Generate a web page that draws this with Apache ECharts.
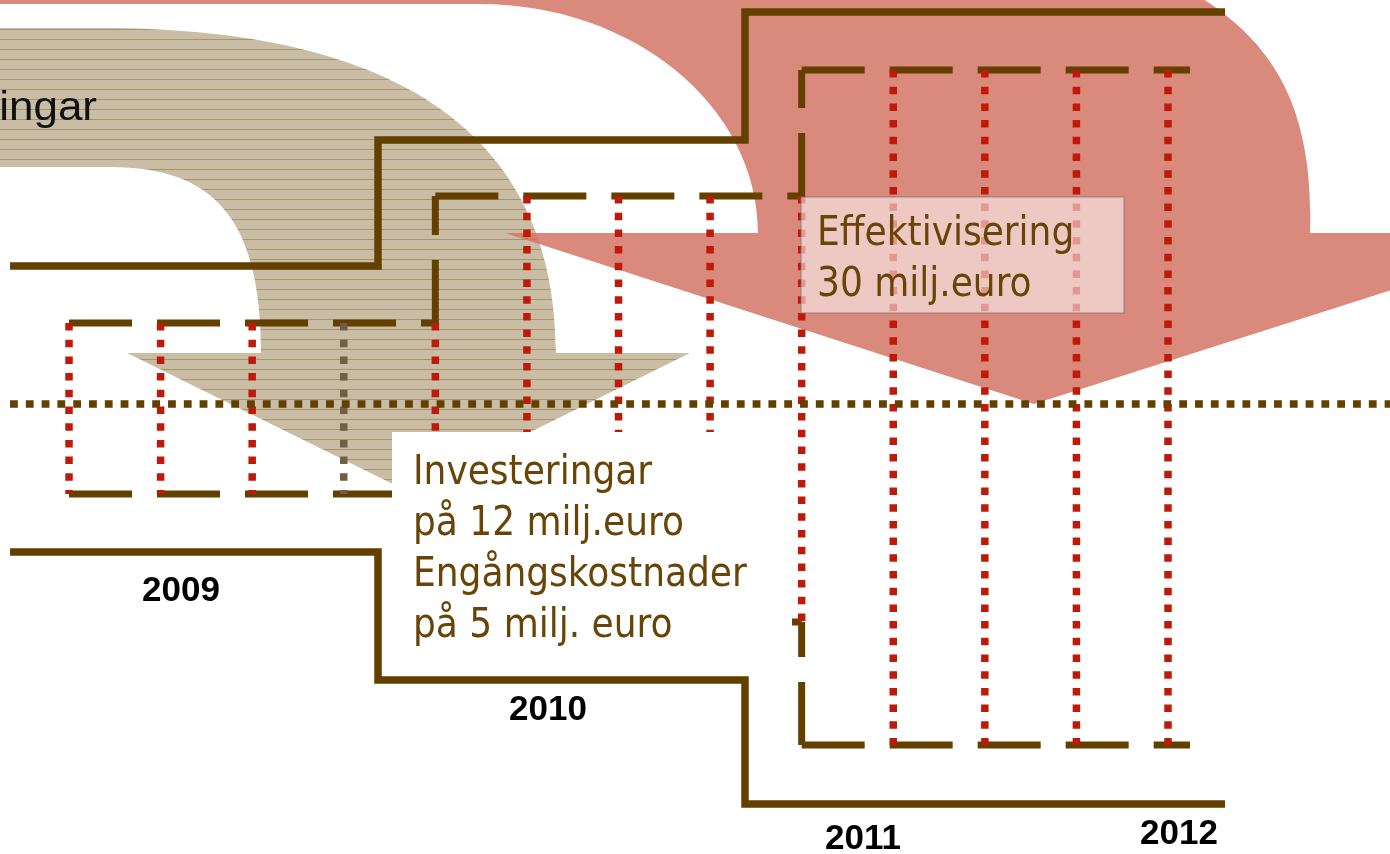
<!DOCTYPE html>
<html><head><meta charset="utf-8">
<script src="https://cdn.jsdelivr.net/npm/echarts@6/dist/echarts.min.js"></script>
<style>html,body{margin:0;padding:0;background:#fff;overflow:hidden}#c{width:1390px;height:854px}</style>
</head><body><div id="c"></div>
<script>
// x axis: time in years (red divider lines at each quarter); y axis: level relative to the dotted baseline
const X_MIN = 2008.8116, X_MAX = 2012.6060, Y_MIN = -450, Y_MAX = 404;

const years = ['2009', '2010', '2011', '2012'];
const yearLabelT = [2009.3057, 2010.3076, 2011.1675, 2012.0301];
const yearLabelV = [-187.5, -306.5, -435.5, -430.5];

// solid envelope (step lines)
const stepT = [2008.839, 2009.8435, 2010.8453, 2012.1556];
const upperStepV = [138, 264, 392, 392];
const lowerStepV = [-148, -276, -400, -400];

// quarter dividers (red dotted)
const quarterT = [2009, 2009.25, 2009.5, 2009.75, 2010, 2010.25, 2010.5, 2010.75, 2011, 2011.25, 2011.5, 2011.75, 2012];
const quarterTop = [81, 81, 81, 81, 81, 208, 208, 208, 208, 334, 334, 334, 334];
const quarterBottom = [-90, -90, -90, -90, -90, -218, -218, -218, -218, -341, -341, -341, -341];
const greyQuarter = 2009.75;

// dashed box edges [t1, v1, t2, v2]
const dashedEdges = [
  [2009, 81, 2010, 81],
  [2009, -90, 2010, -90],
  [2010, 81, 2010, 208],
  [2010, 208, 2011, 208],
  [2010, -218, 2011, -218],
  [2011, -341, 2011, -218],
  [2011, 208, 2011, 334],
  [2011, 334, 2012.0601, 334],
  [2011, -341, 2012.0601, -341]
];

const baselineT = [2008.839, 2012.62];
const baselineV = 0;

// curved arrows (outline commands in axis units)
const beigeArrowPath = [
  ['M', 2008.7843, 376], ['L', 2009.0846, 376],
  ['C', 2009.9582, 376, 2010.3294, 254, 2010.3294, 51],
  ['L', 2010.6952, 51], ['L', 2009.9281, -88], ['L', 2009.1583, 51], ['L', 2009.5241, 51],
  ['C', 2009.5241, 184, 2009.3986, 237, 2009.1119, 237],
  ['L', 2008.7843, 237]
];
const pinkArrowPath = [
  ['M', 2008.7843, 434], ['L', 2012.0328, 419],
  ['C', 2012.2511, 374, 2012.4013, 314, 2012.3876, 171],
  ['L', 2013.0974, 171], ['L', 2011.6342, 0], ['L', 2010.1902, 171], ['L', 2010.8808, 171],
  ['C', 2010.8808, 297.5, 2010.5410, 400, 2010.1219, 400],
  ['L', 2008.7843, 400]
];

const arrowLabel = 'Investeringar';
const arrowLabelAnchor = [2009.0764, 295];

const investText = ['Investeringar', 'på 12 milj.euro', 'Engångskostnader', 'på 5 milj. euro'];
const investBox = [2009.8817, -28, 2010.9736, -266];
const investTextAnchor = [2009.939, -44.5];

const effektText = ['Effektivisering', '30 milj.euro'];
const effektBox = [2010.9982, 207, 2011.8799, 91];
const effektTextAnchor = [2011.0419, 195];

const BROWN = '#633F00', RED = '#BE1A0A', GREY = '#6F5F44', TEXT_BROWN = '#684507';
const TEXT_FONT = '40px "DejaVu Sans Condensed"';

const pc = document.createElement('canvas');
pc.width = 8; pc.height = 10;
const g = pc.getContext('2d');
g.fillStyle = '#C9BDA5'; g.fillRect(0, 0, 8, 10);
g.fillStyle = '#A8946C'; g.fillRect(0, 9, 8, 1);

function pathRender(cmds, style) {
  return function (params, api) {
    let d = '';
    cmds.forEach(c => {
      d += c[0];
      for (let i = 1; i < c.length; i += 2) {
        const p = api.coord([c[i], c[i + 1]]);
        d += ' ' + p[0].toFixed(2) + ' ' + p[1].toFixed(2);
      }
      d += ' ';
    });
    d += 'Z';
    return { type: 'path', shape: { pathData: d }, style: style };
  };
}

function boxRender(box, anchor, lines, fill, stroke, lw) {
  return function (params, api) {
    const a = api.coord([box[0], box[1]]), b = api.coord([box[2], box[3]]);
    const t = api.coord(anchor);
    return {
      type: 'group', children: [
        { type: 'rect', shape: { x: a[0], y: a[1], width: b[0] - a[0], height: b[1] - a[1] },
          style: { fill: fill, stroke: stroke, lineWidth: lw } },
        { type: 'text', x: t[0], y: t[1],
          style: { text: lines.join('\n'), font: TEXT_FONT, fill: TEXT_BROWN, lineHeight: 51, align: 'left', verticalAlign: 'top' } }
      ]
    };
  };
}

const chart = echarts.init(document.getElementById('c'));
chart.setOption({
  animation: false,
  grid: { left: 0, right: 0, top: 0, bottom: 0 },
  xAxis: { type: 'value', min: X_MIN, max: X_MAX, show: false },
  yAxis: { type: 'value', min: Y_MIN, max: Y_MAX, show: false },
  series: [
    { type: 'custom', z: 1, silent: true, data: [[2010, 0]],
      renderItem: pathRender(beigeArrowPath, { fill: { image: pc, repeat: 'repeat' } }) },
    { type: 'custom', z: 2, silent: true, data: [[2011, 0]],
      renderItem: pathRender(pinkArrowPath, { fill: '#D37466', opacity: 0.85 }) },
    { type: 'custom', z: 9, silent: true, data: [[arrowLabelAnchor[0], arrowLabelAnchor[1]]],
      renderItem: function (params, api) {
        const p = api.coord(arrowLabelAnchor);
        return { type: 'text', x: p[0], y: p[1], scaleX: 1.1, style: { text: arrowLabel, font: '40px "Liberation Sans"', fill: '#111', align: 'right', verticalAlign: 'middle' } };
      } },
    { type: 'line', step: 'end', z: 3, silent: true, symbol: 'none',
      data: stepT.map((t, i) => [t, upperStepV[i]]), lineStyle: { color: BROWN, width: 7.5, join: 'miter' } },
    { type: 'line', step: 'end', z: 3, silent: true, symbol: 'none',
      data: stepT.map((t, i) => [t, lowerStepV[i]]), lineStyle: { color: BROWN, width: 7.5, join: 'miter' } },
    { type: 'custom', z: 4, silent: true, data: dashedEdges, encode: { x: [0, 2], y: [1, 3] },
      renderItem: function (params, api) {
        const a = api.coord([api.value(0), api.value(1)]), b = api.coord([api.value(2), api.value(3)]);
        return { type: 'line', shape: { x1: a[0], y1: a[1], x2: b[0], y2: b[1] },
          style: { stroke: BROWN, lineWidth: 7, lineDash: [63, 25], lineCap: 'butt' } };
      } },
    { type: 'custom', z: 5, silent: true, data: quarterT.map((t, i) => [t, quarterTop[i], quarterBottom[i]]), encode: { x: 0, y: [1, 2] },
      renderItem: function (params, api) {
        const t = api.value(0);
        const a = api.coord([t, api.value(1)]), b = api.coord([t, api.value(2)]);
        return { type: 'line', shape: { x1: a[0], y1: a[1], x2: b[0], y2: b[1] },
          style: { stroke: t === greyQuarter ? GREY : RED, lineWidth: 7.5, lineDash: [7.5, 9.2], lineCap: 'butt' } };
      } },
    { type: 'custom', z: 6, silent: true, data: [[baselineT[0], baselineV, baselineT[1], baselineV]], encode: { x: [0, 2], y: [1, 3] },
      renderItem: function (params, api) {
        const a = api.coord([api.value(0), api.value(1)]), b = api.coord([api.value(2), api.value(3)]);
        return { type: 'line', shape: { x1: a[0], y1: a[1], x2: b[0], y2: b[1] },
          style: { stroke: BROWN, lineWidth: 7.5, lineDash: [7.8, 8], lineCap: 'butt' } };
      } },
    { type: 'custom', z: 7, silent: true, data: [[investBox[0], investBox[1]]],
      renderItem: boxRender(investBox, investTextAnchor, investText, '#ffffff', null, 0) },
    { type: 'custom', z: 8, silent: true, data: [[effektBox[0], effektBox[1]]],
      renderItem: boxRender(effektBox, effektTextAnchor, effektText, 'rgba(255,255,255,0.55)', 'rgba(120,110,110,0.5)', 1.5) },
    { type: 'custom', z: 9, silent: true, data: yearLabelT.map((t, i) => [t, yearLabelV[i]]),
      renderItem: function (params, api) {
        const p = api.coord([api.value(0), api.value(1)]);
        return { type: 'text', x: p[0], y: p[1], style: { text: years[params.dataIndex], font: 'bold 35px "Liberation Sans"', fill: '#000', align: 'center', verticalAlign: 'middle' } };
      } }
  ]
});
</script>
</body></html>
